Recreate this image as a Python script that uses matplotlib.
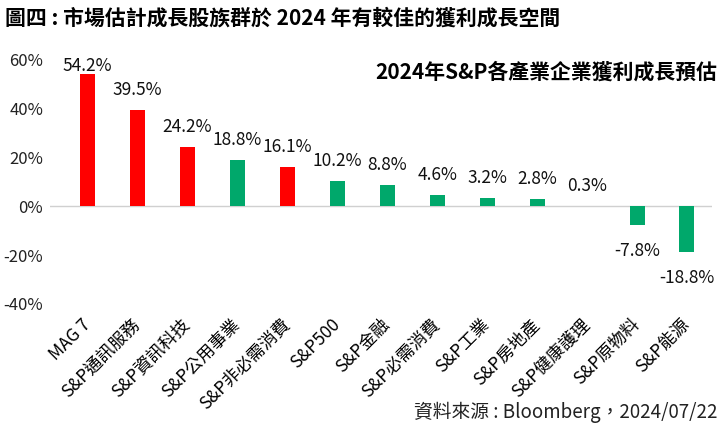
import matplotlib
matplotlib.use('Agg')
from matplotlib import pyplot as plt

plt.rcParams['font.family'] = ['Noto Sans CJK TC', 'DejaVu Sans']

# Data
categories = ['MAG 7', 'S&P通訊服務', 'S&P資訊科技', 'S&P公用事業', 'S&P非必需消費',
              'S&P500', 'S&P金融', 'S&P必需消費', 'S&P工業', 'S&P房地產',
              'S&P健康護理', 'S&P原物料', 'S&P能源']
growth = [54.2, 39.5, 24.2, 18.8, 16.1, 10.2, 8.8, 4.6, 3.2, 2.8, 0.3, -7.8, -18.8]
highlight = [True, True, True, False, True, False, False, False, False, False, False, False, False]
yticks = [-40, -20, 0, 20, 40, 60]

RED = '#FF0000'
GREEN = '#00A86B'


def main():
    fig = plt.figure(figsize=(7.25, 4.34), dpi=100)
    ax = fig.add_axes([0.069, 0.30, 0.913, 0.562])

    colors = [RED if h else GREEN for h in highlight]
    x = range(len(categories))
    ax.bar(x, growth, width=0.3, color=colors, zorder=2)

    # Value labels, kept inside the plot area
    for i, v in enumerate(growth):
        if v >= 0:
            y = min(v + 8.2, 57.3)
        else:
            y = v - 10.7
        ax.text(i, y, f'{v:.1f}%', ha='center', va='center',
                fontsize=12.5, color='#111111')

    ax.set_xlim(-0.75, len(categories) - 0.5)
    ax.set_ylim(-40, 60)
    ax.set_yticks(yticks)
    ax.set_yticklabels([f'{t}%' for t in yticks], fontsize=12, color='#222222')
    ax.set_xticks(list(x))
    ax.set_xticklabels(categories, rotation=45, ha='right', va='center',
                       rotation_mode='anchor', fontsize=12.5, fontweight='medium',
                       color='#000000')
    ax.tick_params(axis='both', length=0)
    ax.tick_params(axis='y', pad=5)
    ax.tick_params(axis='x', pad=13)

    for side in ['top', 'right', 'left', 'bottom']:
        ax.spines[side].set_visible(False)
    ax.axhline(0, color='#D0D0D0', linewidth=1, zorder=1)

    fig.text(0.007, 0.958, '圖四 : 市場估計成長股族群於 2024 年有較佳的獲利成長空間',
             fontsize=15, fontweight='bold', ha='left', va='center')
    fig.text(0.99, 0.835, '2024年S&P各產業企業獲利成長預估',
             fontsize=15, fontweight='bold', ha='right', va='center')
    fig.text(0.99, 0.05, '資料來源 : Bloomberg，2024/07/22',
             fontsize=13.5, ha='right', va='center', color='#222222')

    fig.savefig('out.png', dpi=100)


# Only if this file is run directly
if __name__ == '__main__':
    main()
